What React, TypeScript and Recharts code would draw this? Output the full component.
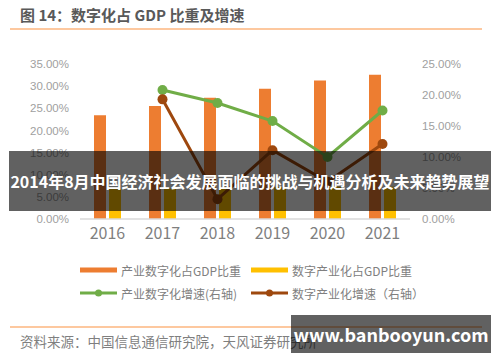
import { Bar, ComposedChart, Line, XAxis, YAxis } from "recharts";

const years = ["2016", "2017", "2018", "2019", "2020", "2021"];
const industryDigitShare = [23.4, 25.5, 27.4, 29.4, 31.3, 32.6];
const digitIndustryShare = [6.8, 6.9, 7.1, 7.2, 7.3, 7.3];
const industryDigitGrowth = [null, 20.8, 18.7, 15.8, 10.0, 17.5];
const digitIndustryGrowth = [null, 19.3, 3.2, 11.1, 6.0, 12.1];

const leftTicks = [0, 5, 10, 15, 20, 25, 30, 35];
const rightTicks = [0, 5, 10, 15, 20, 25];

const seriesNames = [
  "产业数字化占GDP比重",
  "数字产业化占GDP比重",
  "产业数字化增速(右轴)",
  "数字产业化增速（右轴）",
];

const ORANGE = "#ED7D31";
const YELLOW = "#FFC000";
const GREEN = "#70AD47";
const BROWN = "#9E480E";
const FONT = "'Noto Sans CJK SC', 'Noto Sans', sans-serif";
const TICK_FONT = "Arial, 'Liberation Sans', sans-serif";

const data = years.map((y, i) => ({
  year: y,
  a: industryDigitShare[i],
  b: digitIndustryShare[i],
  c: industryDigitGrowth[i],
  d: digitIndustryGrowth[i],
}));

function LegendItem({ color, label, dot, left, top }: { color: string; label: string; dot?: boolean; left: number; top: number }) {
  return (
    <div style={{ position: "absolute", left, top, display: "flex", alignItems: "center", height: 16 }}>
      <svg width={37} height={10} style={{ marginRight: 4 }}>
        <line x1={0} y1={5} x2={37} y2={5} stroke={color} strokeWidth={dot ? 3 : 5} />
        {dot && <circle cx={18.5} cy={5} r={3.5} fill={color} />}
      </svg>
      <span style={{ fontSize: 12, color: "#808080", whiteSpace: "nowrap" }}>{label}</span>
    </div>
  );
}

export default function App() {
  return (
    <div style={{ position: "absolute", left: 0, top: 0, width: 500, height: 362, background: "#fff", fontFamily: FONT, overflow: "hidden" }}>
      <div style={{ position: "absolute", left: 20, top: 4, fontSize: 15, fontWeight: 700, color: "#595959", whiteSpace: "nowrap" }}>
        图 14：数字化占 GDP 比重及增速
      </div>
      <div style={{ position: "absolute", left: 10, top: 28, width: 472, height: 2, background: "#FDC89F" }} />

      <div style={{ position: "absolute", left: 0, top: 0 }}>
        <ComposedChart
          width={500}
          height={362}
          data={data}
          margin={{ top: 64, right: 20, bottom: 113, left: 10 }}
          barSize={12}
          barGap={3}
        >
          <XAxis
            dataKey="year"
            height={30}
            tick={{ fontSize: 16, fill: "#7f7f7f", fontFamily: FONT }}
            tickLine={false}
            axisLine={{ stroke: "#d9d9d9", strokeWidth: 1.5 }}
            tickMargin={3}
          />
          <YAxis
            yAxisId="left"
            width={70}
            domain={[0, 35]}
            ticks={leftTicks}
            tickFormatter={(v) => `${Number(v).toFixed(2)}%`}
            tick={{ fontSize: 11.5, fill: "#a0a0a0", fontFamily: TICK_FONT }}
            tickLine={false}
            axisLine={false}
            tickMargin={5}
          />
          <YAxis
            yAxisId="right"
            orientation="right"
            width={70}
            domain={[0, 25]}
            ticks={rightTicks}
            tickFormatter={(v) => `${Number(v).toFixed(2)}%`}
            tick={{ fontSize: 11.5, fill: "#a0a0a0", fontFamily: TICK_FONT }}
            tickLine={false}
            axisLine={false}
            tickMargin={6}
          />
          <Bar yAxisId="left" dataKey="a" name={seriesNames[0]} fill={ORANGE} isAnimationActive={false} />
          <Bar yAxisId="left" dataKey="b" name={seriesNames[1]} fill={YELLOW} isAnimationActive={false} />
          <Line
            yAxisId="right"
            dataKey="c"
            name={seriesNames[2]}
            stroke={GREEN}
            strokeWidth={3}
            dot={{ r: 5, fill: GREEN, stroke: GREEN, strokeWidth: 0 }}
            isAnimationActive={false}
          />
          <Line
            yAxisId="right"
            dataKey="d"
            name={seriesNames[3]}
            stroke={BROWN}
            strokeWidth={3}
            dot={{ r: 5, fill: BROWN, stroke: BROWN, strokeWidth: 0 }}
            isAnimationActive={false}
          />
        </ComposedChart>
      </div>

      <LegendItem color={ORANGE} label={seriesNames[0]} left={80} top={262} />
      <LegendItem color={YELLOW} label={seriesNames[1]} left={251} top={262} />
      <LegendItem color={GREEN} label={seriesNames[2]} left={80} top={285} dot />
      <LegendItem color={BROWN} label={seriesNames[3]} left={251} top={285} dot />

      <div style={{ position: "absolute", left: 10, top: 326, width: 472, height: 2, background: "#FDC89F" }} />
      <div style={{ position: "absolute", left: 20, top: 331, fontSize: 13.5, color: "#7f7f7f", whiteSpace: "nowrap" }}>
        资料来源：中国信息通信研究院，天风证券研究所
      </div>

      <div
        style={{
          position: "absolute",
          left: 9,
          top: 151,
          width: 482,
          height: 60,
          background: "rgba(0,0,0,0.62)",
          color: "#fff",
          fontSize: 16,
          fontWeight: 700,
          display: "flex",
          alignItems: "center",
          justifyContent: "center",
          whiteSpace: "nowrap",
        }}
      >
        2014年8月中国经济社会发展面临的挑战与机遇分析及未来趋势展望
      </div>
      <div
        style={{
          position: "absolute",
          left: 291,
          top: 315,
          width: 200,
          height: 38,
          background: "rgba(0,0,0,0.62)",
          color: "#fff",
          fontSize: 18,
          fontWeight: 700,
          display: "flex",
          alignItems: "center",
          justifyContent: "center",
          whiteSpace: "nowrap",
        }}
      >
        www.banbooyun.com
      </div>
    </div>
  );
}
